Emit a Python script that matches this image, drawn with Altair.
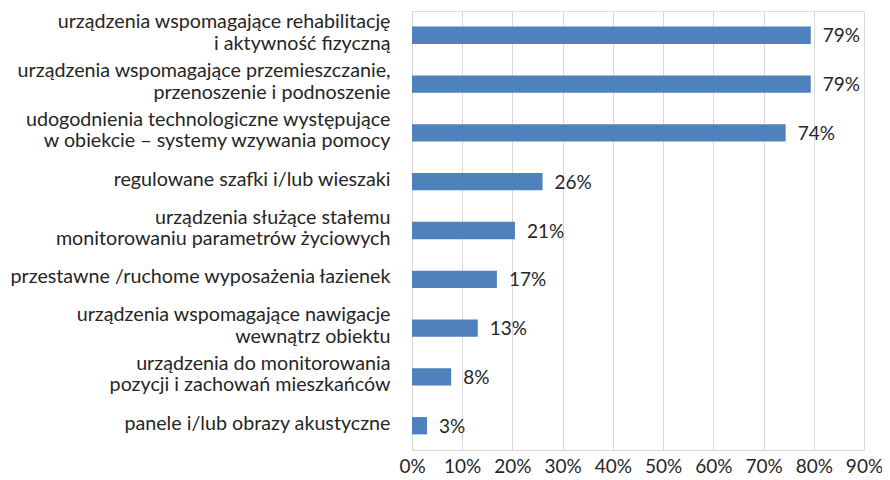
import altair as alt
import pandas as pd

categories = [
    "urządzenia wspomagające rehabilitację|i aktywność fizyczną",
    "urządzenia wspomagające przemieszczanie,|przenoszenie i podnoszenie",
    "udogodnienia technologiczne występujące|w obiekcie – systemy wzywania pomocy",
    "regulowane szafki i/lub wieszaki",
    "urządzenia służące stałemu|monitorowaniu parametrów życiowych",
    "przestawne /ruchome wyposażenia łazienek",
    "urządzenia wspomagające nawigacje|wewnątrz obiektu",
    "urządzenia do monitorowania|pozycji i zachowań mieszkańców",
    "panele i/lub obrazy akustyczne",
]
values = [0.794, 0.794, 0.744, 0.26, 0.205, 0.169, 0.131, 0.078, 0.03]
value_labels = ["79%", "79%", "74%", "26%", "21%", "17%", "13%", "8%", "3%"]
tick_values = [0, 0.1, 0.2, 0.3, 0.4, 0.5, 0.6, 0.7, 0.8, 0.9]

df = pd.DataFrame({"cat": categories, "val": values, "lab": value_labels})

FONT = "Lato"
TXT = "#262626"
FS = 19

y = alt.Y(
    "cat:N",
    sort=None,
    title=None,
    scale=alt.Scale(paddingInner=0.645, paddingOuter=0.32),
    axis=alt.Axis(
        labelExpr="split(datum.label, '|')",
        labelFontSize=19.7,
        labelFont=FONT,
        labelColor=TXT,
        labelPadding=22,
        labelLineHeight=21.5,
        labelLimit=0,
        labelOffset={"condition": {"test": "indexof(datum.value, '|') >= 0", "value": -13}, "value": -2},
        ticks=False,
        domain=False,
        grid=False,
    ),
)
x = alt.X(
    "val:Q",
    title=None,
    scale=alt.Scale(domain=[0, 0.9], nice=False),
    axis=alt.Axis(
        format=".0%",
        values=tick_values,
        labelFontSize=FS,
        labelFont=FONT,
        labelColor=TXT,
        labelPadding=7,
        labelOverlap=False,
        labelFlush=False,
        ticks=False,
        domain=True,
        domainColor="#D9D9D9",
        grid=True,
        gridColor="#D9D9D9",
        gridWidth=1,
    ),
)

bars = alt.Chart(df).mark_bar(color="#4F81BD").encode(x=x, y=y)
text = alt.Chart(df).mark_text(
    align="left", baseline="middle", dx=12, dy=1, fontSize=FS, font=FONT, color=TXT
).encode(x="val:Q", y=alt.Y("cat:N", sort=None), text="lab:N")

chart = (
    (bars + text)
    .properties(
        width=452,
        height=439,
        autosize=alt.AutoSizeParams(type="none"),
        padding={"left": 404, "top": 3, "right": 18, "bottom": 28},
    )
    .configure_view(stroke=None)
    .configure(background="white")
)

chart.save("out.html", embed_options={"renderer": "svg", "actions": False})
